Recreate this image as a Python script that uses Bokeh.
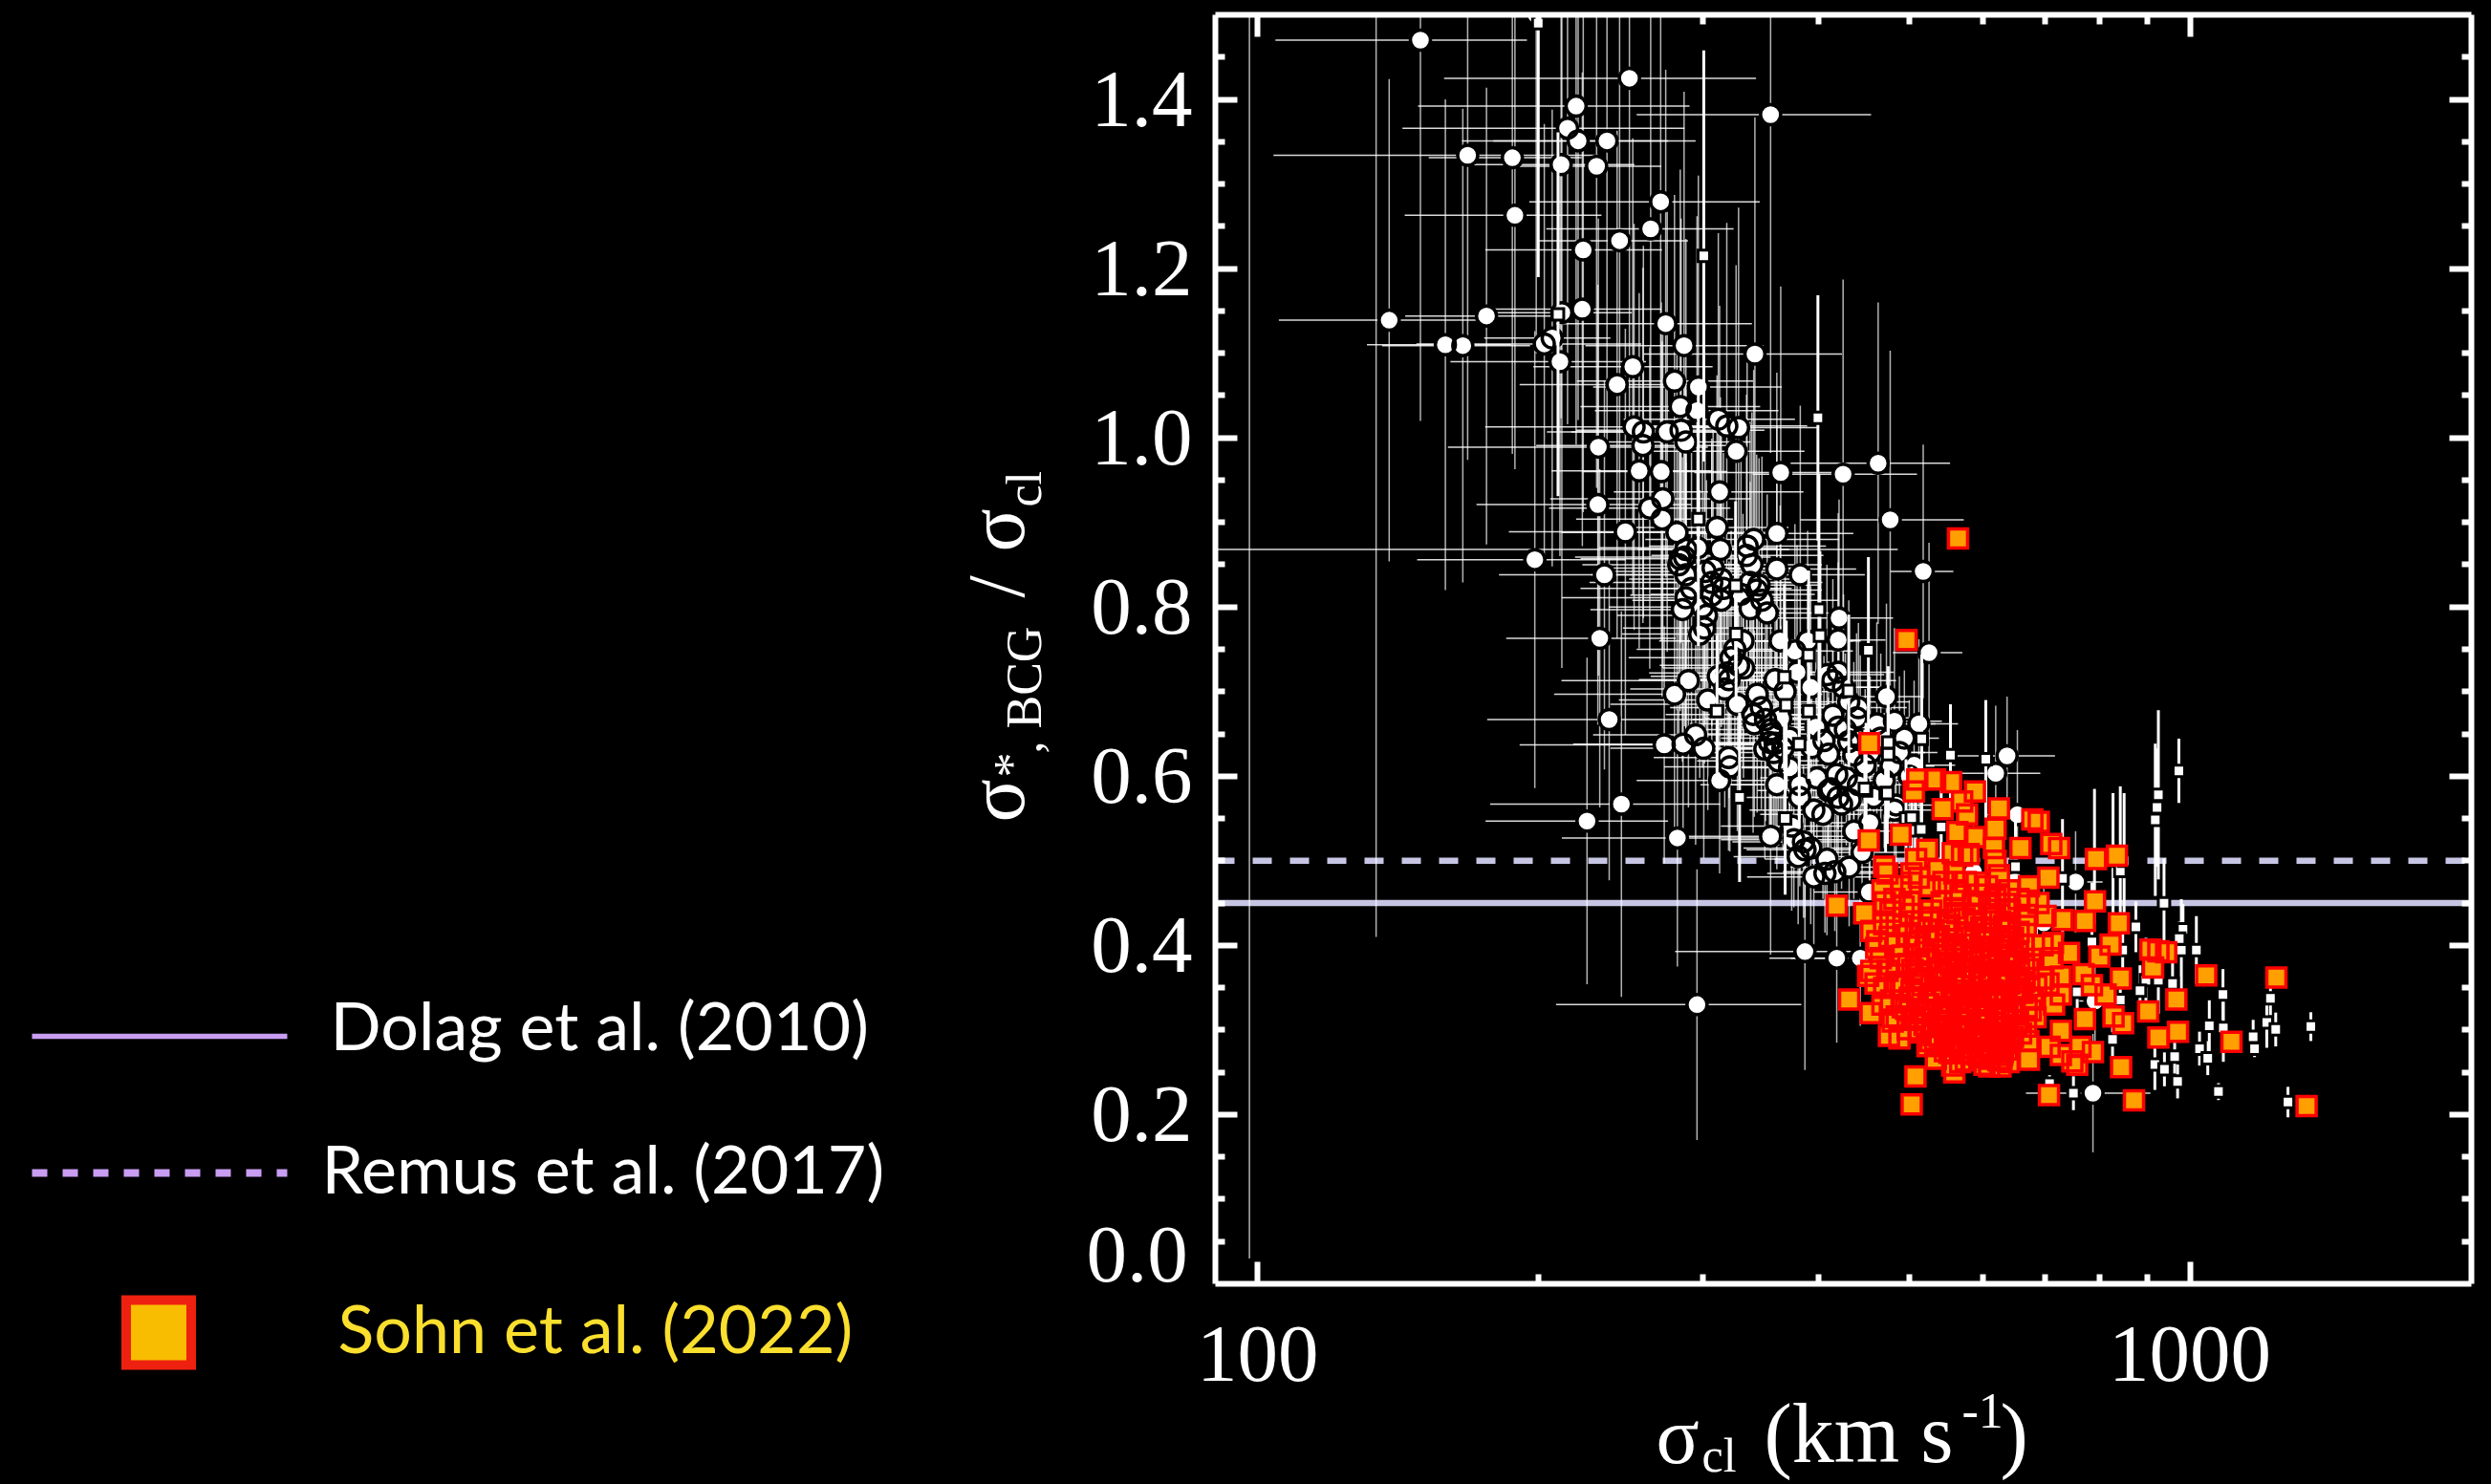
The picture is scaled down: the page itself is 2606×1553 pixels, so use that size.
from bokeh.plotting import figure
from bokeh.models import (FixedTicker, Range1d, LogAxis, LinearAxis, BasicTickFormatter)
from bokeh.core.properties import value
from bokeh.embed import file_html
from bokeh.resources import INLINE

# ---- data ----
circ_sigma = [149.5,250.5,219.6,355,215,220.7,237,168,187.6,211.6,
 231,270.6,188.8,264,244.5,223.5,223,212,176,138.4,
 274,207,159,166,203,286.7,341.5,211,252.6,243,
 280,297,284,296,312,318.6,328,253.4,259.3,259,
 232,275,284.6,288,326,199,288,
 256.6,271,364,424.6,463,313,272,231.7,263.4,271.6,
 477,311,248,281.7,360.5,340.5,296.5,313.6,335,287,
 284,198.3,334.5,288,235.5,360.5,382,517.5,302,314.3,
 307,337.5,343,307,314.3,288,285.5,347.5,337.5,303,
 301.5,420.4,232.8,331.6,325,363.5,419.5,377,389,525,
 328,319,320.4,379,419.5,414,359,289.8,280,343.4,
 304,327,472.6,430.6,441,340,350.6,341,238.3,295,
 286,273,301,356,359,357.6,419.5,439,461.5,482,
 512,409.6,393,430.6,320,321,448.4,506,372,418,
 313,360.5,381.5,381.5,409.6,419.5,423,484,245.6,404,
 453.6,374,225.6,282,355,385,386.5,408,386.4,296,
 418,443,453,619,636.6,653,754,787,567,586,
 563,697,791,607,649,
 308,316,330,345,300,292,283,339,352,298,
 322,332,317,368,392,408,425,312,347,355,
 364,372,362,350,354,366,397,405,414,427,
 436,443,454,466,478,488,494,500,398,412,
 428,432,441,458,470,482,395,376,380,392,
 395,406,416,431,436,445]
circ_ratio = [1.47,1.425,1.392,1.382,1.366,1.351,1.351,1.334,1.331,1.323,
 1.321,1.279,1.263,1.247,1.233,1.222,1.152,1.148,1.144,1.139,
 1.135,1.118,1.110,1.109,1.111,1.109,1.099,1.09,1.084,1.063,
 1.067,1.060,1.037,1.032,1.022,1.014,1.012,1.013,1.007,.991,
 .989,1.007,1.009,.995,.984,1.50,.868,
 .961,.96,.959,.957,.970,.936,.928,.921,.917,.904,
 .903,.894,.889,.888,.887,.880,.870,.868,.872,.859,
 .857,.856,.861,.838,.838,.845,.838,.842,.842,.833,
 .829,.829,.82,.814,.808,.811,.797,.808,.798,.790,
 .775,.787,.763,.760,.750,.760,.761,.748,.760,.746,
 .731,.722,.714,.723,.723,.713,.714,.713,.697,.697,
 .690,.685,.694,.688,.681,.673,.667,.662,.667,.649,
 .638,.637,.633,.650,.639,.628,.658,.669,.662,.665,
 .662,.626,.634,.641,.622,.611,.613,.613,.610,.602,
 .595,.590,.590,.575,.583,.575,.567,.566,.567,.555,
 .545,.541,.547,.527,.529,.5225,.513,.502,.3927,.33,
 .385,.385,.463,.6034,.624,.5545,.475,.2254,.4304,.487,
 .408,.4266,.3344,.361,.4755,
 .846,.822,.815,.826,.80,.822,.85,.85,.793,.768,
 .74,.728,.703,.70,.705,.72,.705,.718,.681,.655,
 .668,.645,.618,.632,.64,.633,.658,.642,.672,.655,
 .625,.643,.628,.645,.612,.628,.645,.60,.598,.585,
 .598,.572,.59,.575,.595,.56,.56,.525,.505,.515,
 .481,.485,.487,.4926,.535,.51]
circ_dsigma = [45,92,71,100,72,55,58,64,35,42,
 40,75,45,60,45,48,48,40,32,33,
 65,32,28,30,55,62,82,50,55,52,
 60,68,62,66,65,70,72,78,55,60,
 72,58,65,50,60,20,198,
 50,48,70,85,90,72,66,60,58,52,
 95,60,62,70,75,80,64,58,72,68,
 62,50,70,60,54,78,66,40,70,64,
 80,66,60,56,62,76,58,72,54,60,
 55,60,48,62,70,80,52,58,46,45,
 58,56,64,50,62,70,64,78,72,60,
 60,88,44,70,56,66,58,50,62,66,
 68,82,62,72,60,54,58,66,72,60,
 52,64,70,60,54,48,70,54,62,58,
 58,62,70,54,66,60,52,50,68,58,
 56,60,50,70,80,62,52,58,106,87,
 64,70,58,72,80,48,52,120,40,44,
 40,36,30,34,42,
 70,58,66,54,62,70,60,64,58,52,
 72,60,66,58,74,62,54,48,70,56,
 62,58,66,60,52,48,70,58,64,56,
 60,50,66,58,54,48,44,60,52,60,
 66,54,58,50,64,46,58,62,56,60,
 60,54,50,58,52,60]
circ_dratio = [.45,.42,.40,.40,.35,.33,.36,.36,.35,.30,
 .38,.38,.30,.33,.35,.31,.28,.42,.27,.285,
 .30,.27,.29,.28,.26,.30,.28,.23,.27,.30,
 .22,.25,.28,.23,.22,.24,.26,.24,.22,.21,
 .27,.26,.25,.24,.22,.40,.20,
 .21,.20,.22,.23,.19,.22,.20,.26,.19,.21,
 .20,.18,.24,.21,.19,.20,.19,.18,.22,.20,
 .18,.27,.19,.19,.23,.17,.20,.15,.18,.17,
 .17,.19,.16,.18,.15,.16,.18,.17,.15,.16,
 .16,.14,.20,.15,.14,.16,.15,.15,.13,.13,
 .13,.12,.14,.15,.13,.12,.14,.15,.16,.14,
 .13,.15,.11,.12,.10,.14,.12,.11,.19,.13,
 .12,.14,.13,.12,.11,.10,.12,.10,.12,.11,
 .10,.11,.12,.10,.11,.10,.09,.10,.11,.10,
 .11,.10,.12,.09,.11,.09,.10,.09,.228,.10,
 .09,.10,.193,.152,.14,.09,.08,.09,.14,.16,
 .10,.08,.07,.08,.07,.10,.06,.07,.06,.07,
 .06,.06,.05,.05,.07,
 .18,.16,.17,.15,.19,.16,.20,.18,.14,.17,
 .15,.13,.14,.15,.12,.13,.11,.12,.12,.13,
 .11,.12,.10,.13,.11,.12,.11,.10,.12,.09,
 .11,.10,.09,.10,.08,.09,.08,.09,.10,.09,
 .08,.09,.08,.09,.08,.07,.09,.08,.08,.09,
 .08,.07,.07,.07,.08,.07]

sq_sigma = [200,210,301,399,297,325.6,400,326,401,452,
 390,367.3,430.6,311,369,390,381,474.6,474.6,515.6,
 449.4,471.6,328.8,368,496,508,448,473.6,503,515,
 541,553.5,604,650,973,925,922,918,938,875,
 983,1016,979,847,974,897,925,958,884,1085,
 842,1220,1049,1086,1169,1209,1236,1348,1173,1024,
 963,1045,917,939,970,1073,1274,750,707,826,
 785,684,684,757,704,730,790,827,842,850]
sq_ratio = [1.49,1.146,1.215,1.0235,.904,.825,.797,.768,.766,.749,
 .743,.717,.701,.677,.684,.677,.638,.640,.626,.644,
 .583,.580,.575,.550,.550,.536,.585,.580,.551,.537,
 .54,.625,.62,.493,.6064,.578,.563,.5485,.4499,.422,
 .419,.3946,.3946,.3946,.408,.359,.359,.355,.3465,.342,
 .3355,.3374,.3051,.3024,.292,.309,.3006,.304,.278,.278,
 .2686,.2667,.2592,.2535,.2392,.2272,.2148,.2253,.2366,.289,
 .404,.403,.3878,.345,.3382,.4793,.505,.50,.488,.50]
sq_dratio = [.30,.215,.243,.145,.15,.10,.16,.09,.10,.11,
 .10,.11,.09,.09,.10,.08,.10,.09,.07,.10,
 .08,.07,.10,.09,.07,.06,.07,.06,.06,.06,
 .06,.06,.07,.06,.038,.10,.07,.09,.053,.03,
 .03,.04,.06,.04,.02,.05,.04,.03,.03,.03,
 .03,.02,.03,.04,.02,.03,.02,.017,.01,.02,
 .02,.02,.03,.02,.02,.01,.018,.02,.01,.02,
 .07,.06,.05,.03,.02,.07,.08,.08,.10,.08]

stray_sigma = [98, 134]
stray_low = [0.03, 0.41]
stray_high = [1.5, 1.5]

sohn_sigma = [564,496.6,453,510,533,554.5,588,505.7,569.7,624,543,576.7,677.6,688.5,563,489.5,452.4,588,618.8,658,
 710,724,793,835,522.7,508.5,556.7,569.7,579,616.3,618.8,624,470,473.7,705,537.3,502.6,502.6,558.8,590.6,
 624,669.5,791,418,447.3,470.7,477.4,500.6,541.6,567.4,609,634,588,669.5,666.7,636.6,730,771.5,839,455.3,
 484.7,524.4,552.4,588,713,742,822,799.6,460.8,484.7,524.4,563,604,654,455.3,451.7,484.7,470,512.5,550,
 586,624,664,696.7,727,769,785,843,812,727,431,454.6,484.7,508.5,537.3,567.4,595,634,664,500.6,
 533,567.4,604,649,484.7,512.5,541.6,572,604,644,675,771.5,828,848,475.5,512.5,541.6,572,604,634,
 667,727,533,556.7,586,634,707,727,763,787,748,586,672,629,626.4,757,843.7,507.7,558.8,706,
 503,871,907,943,925,913,1041,1238,967,902,971,925,1108,1334,
 493,516,528,547,559,573,585,597,612,626,641,655,
 497,511,531,543,556,571,583,596,609,622,637,649,663,675,
 492,504,521,536,548,561,574,588,601,615,629,642,656,671,684,
 489,503,517,529,545,558,572,584,593,608,621,636,648,661,678,
 492,507,524,537,551,564,579,592,606,619,631,654,668,683,
 498,519,531,546,561,576,589,601,616,627,646,659,671,
 546,568,597,612,623,602,639,
 501,513,525,538,550,563,577,590,604,618,632,646,
 506,520,534,547,560,574,587,600,613,628,641,653,
 499,512,526,541,554,569,582,595,610,624,638,651,
 503,515,530,544,557,570,586,599,614,626,640,657,
 496,510,522,535,549,562,578,591,605,617,633,648,
 505,518,532,548,565,581,594,607,620,635,652,
 513,527,542,555,571,585,598,611,625,643,
 523,539,552,566,580,593,608,622,636,
 534,551,567,583,596,610,630,
 556,575,592,609,628,
 512,526,544,560,575,592,606,618,640,655,672,
 490,482,468,688,700,695,712,705,715,
 470,462,476,466,474,460,478,468,480,488]
sohn_ratio = [.881,.761,.639,.596,.596,.593,.582,.582,.570,.562,.561,.555,.549,.546,.534,.531,.524,.528,.538,.515,
 .520,.515,.502,.506,.513,.502,.509,.506,.508,.515,.500,.483,.493,.485,.480,.489,.485,.474,.485,.474,
 .459,.453,.452,.447,.438,.451,.440,.451,.451,.459,.451,.449,.436,.436,.423,.421,.430,.429,.426,.417,
 .425,.432,.430,.410,.403,.391,.401,.387,.397,.400,.406,.395,.391,.391,.370,.364,.376,.350,.380,.380,
 .387,.380,.376,.361,.363,.366,.353,.361,.342,.342,.336,.320,.357,.361,.361,.365,.357,.357,.357,.338,
 .342,.342,.342,.342,.316,.323,.323,.323,.323,.323,.323,.313,.316,.308,.293,.297,.304,.304,.308,.304,
 .304,.299,.284,.286,.278,.288,.280,.2705,.280,.274,.263,.272,.265,.2705,.257,.259,.256,.245,.250,.223,
 .212,.217,.395,.392,.393,.374,.3645,.362,.336,.322,.298,.291,.286,.210,
 .446,.428,.441,.417,.444,.432,.448,.421,.437,.428,.441,.416,
 .412,.399,.418,.394,.407,.401,.386,.398,.409,.394,.404,.382,.401,.384,
 .388,.371,.384,.373,.366,.389,.369,.374,.362,.377,.366,.378,.368,.372,.352,
 .352,.347,.353,.336,.349,.356,.332,.351,.329,.354,.338,.346,.334,.344,.336,
 .327,.315,.331,.309,.316,.327,.312,.318,.334,.309,.314,.311,.327,.315,
 .301,.306,.294,.289,.298,.296,.287,.293,.297,.283,.292,.296,.287,
 .275,.279,.268,.276,.264,.259,.262,
 .437,.421,.433,.411,.424,.438,.415,.429,.419,.442,.423,.409,
 .403,.392,.411,.388,.399,.414,.393,.405,.386,.399,.411,.392,
 .378,.366,.382,.369,.377,.362,.381,.367,.383,.365,.376,.361,
 .345,.358,.343,.361,.339,.352,.344,.359,.347,.341,.355,.349,
 .325,.338,.321,.342,.327,.336,.323,.339,.319,.331,.343,.322,
 .312,.324,.305,.319,.311,.326,.307,.321,.303,.316,.306,
 .299,.287,.311,.295,.303,.284,.308,.291,.302,.288,
 .281,.292,.273,.285,.278,.299,.274,.282,.277,
 .266,.283,.262,.273,.279,.266,.274,
 .258,.264,.271,.257,.266,
 .48,.47,.475,.465,.475,.46,.47,.455,.465,.455,.47,
 .47,.455,.465,.45,.435,.40,.385,.355,.33,
 .425,.405,.41,.385,.37,.355,.335,.33,.31,.29]

levels = [0.45, 0.50]
x_tick_values = [100, 1000]
x_tick_labels = ["100", "1000"]
x_minor_values = [200,300,400,500,600,700,800,900]
y_tick_values = [0.2,0.4,0.6,0.8,1.0,1.2,1.4]
y_tick_labels = ["0.2","0.4","0.6","0.8","1.0","1.2","1.4"]
y_minor_values = [0.05,0.1,0.15,0.25,0.3,0.35,0.45,0.5,0.55,0.65,0.7,0.75,0.85,0.9,0.95,1.05,1.1,1.15,1.25,1.3,1.35,1.45]
legend_labels = ["Dolag et al. (2010)", "Remus et al. (2017)", "Sohn et al. (2022)"]

# ---- styles / layout ----
SERIF = "Liberation Serif"
LAV = "#c6c6e4"

# ---- page-wide panel under the plot: its ranges equal page pixels ----
lg = figure(width=2590, height=1545, x_range=Range1d(8,2598), y_range=Range1d(1553,8),
            output_backend="svg", toolbar_location=None, background_fill_color="black",
            border_fill_color="black", min_border=0, outline_line_color=None,
            x_axis_location=None, y_axis_location=None)
lg.grid.visible = False
lg.line([33,300],[1084,1084], line_color="#c89df2", line_width=5.5)
lg.line([33,300],[1227,1227], line_color="#c89df2", line_width=8, line_dash="16 16")
lg.scatter([165.5],[1394], marker="square", size=68, fill_color="#f8bc00",
           line_color="#ee2010", line_width=10, line_join="miter")
lg.text([345,336,353],[1071,1221,1388], text=legend_labels, text_font=value("Lato"),
        text_font_size="70px", text_color=["white","white","#fadf2e"],
        text_baseline="alphabetic", text_align="left")

def lab(text, px, py, size, angle=0):
    # text is drawn .37 em past the requested baseline
    shift = 0.37 * size
    xx, yy = (px - shift, py) if angle else (px, py - shift)
    lg.text([xx], [yy], text=[text], text_font=value(SERIF), text_font_size=f"{size}px",
            text_color="white", text_baseline="alphabetic", text_align="left",
            angle=angle, angle_units="deg")

lab("0.0", 1136, 1344, 85)
lab("σ", 1732, 1533, 84); lab("cl", 1780, 1541, 50); lab("(km s", 1845, 1533, 88)
lab("-1", 2052, 1495, 52); lab(")", 2092, 1533, 88)
lab("σ", 1073, 860, 84, 90); lab("*", 1077, 813, 52, 90); lab(", BCG", 1090, 788, 52, 90)
lab("/", 1073, 625, 84, 90); lab("σ", 1073, 577, 84, 90); lab("cl", 1090, 530, 52, 90)

# ---- main panel ----
p = figure(width=1590, height=1537, x_axis_type="log", x_range=Range1d(90.1,2004), y_range=Range1d(0,1.5),
           output_backend="svg", toolbar_location=None, background_fill_color="black",
           border_fill_color=None, min_border_left=263, min_border_right=13,
           min_border_top=7, min_border_bottom=194, outline_line_color=None,
           frame_width=1314, frame_height=1328, margin=(0,0,0,-1590))
p.grid.visible = False

for lev, dash in zip(levels, ["solid", "20 19"]):
    p.line([90.1,2004],[lev,lev], line_color=LAV, line_width=6.5, line_dash=dash)

WH = "white"
p.segment(stray_sigma, stray_low, stray_sigma, stray_high, line_color=WH, line_alpha=0.7, line_width=1.5)
p.segment([s-d for s,d in zip(circ_sigma,circ_dsigma)], circ_ratio,
          [s+d for s,d in zip(circ_sigma,circ_dsigma)], circ_ratio,
          line_color=WH, line_alpha=0.85, line_width=1.5)
p.segment(circ_sigma, [r-d for r,d in zip(circ_ratio,circ_dratio)],
          circ_sigma, [r+d for r,d in zip(circ_ratio,circ_dratio)],
          line_color=WH, line_alpha=0.7, line_width=1.5)
# fills first, outlines over all of them
p.scatter(circ_sigma, circ_ratio, marker="circle", size=21, fill_color=WH, line_color=None)
p.scatter(circ_sigma, circ_ratio, marker="circle", size=21, fill_color=None, line_color="black", line_width=3.5)
p.segment(sq_sigma, [r-d for r,d in zip(sq_ratio,sq_dratio)],
          sq_sigma, [r+d for r,d in zip(sq_ratio,sq_dratio)],
          line_color=WH, line_width=3)
p.scatter(sq_sigma, sq_ratio, marker="square", size=12, fill_color=WH, line_color="black", line_width=3, line_join="miter")
p.scatter(sohn_sigma, sohn_ratio, marker="square", size=20, fill_color="#ffa000", line_color=None)
p.scatter(sohn_sigma, sohn_ratio, marker="square", size=20, fill_color=None, line_color="#ff0000", line_width=3.5, line_join="miter")

def style(ax, labels):
    ax.axis_line_color = "white"; ax.axis_line_width = 6
    ax.major_tick_line_color = "white"; ax.major_tick_line_width = 6
    ax.minor_tick_line_color = "white"; ax.minor_tick_line_width = 6
    ax.major_tick_in = 23; ax.major_tick_out = 0
    ax.minor_tick_in = 10; ax.minor_tick_out = 0
    if labels:
        ax.major_label_text_font = SERIF
        ax.major_label_text_font_size = "85px"
        ax.major_label_text_color = "white"
    else:
        ax.major_label_text_font_size = "1px"
        ax.major_label_text_color = None
        ax.major_label_standoff = 0

xt = FixedTicker(ticks=x_tick_values, minor_ticks=x_minor_values)
yt = FixedTicker(ticks=y_tick_values, minor_ticks=y_minor_values)

xa = p.xaxis[0]; xa.ticker = xt
xa.formatter = BasicTickFormatter(use_scientific=False)
xa.major_label_overrides = dict(zip(x_tick_values, x_tick_labels))
style(xa, True); xa.major_label_standoff = 45
ya = p.yaxis[0]; ya.ticker = yt
ya.major_label_overrides = dict(zip(y_tick_values, y_tick_labels))
style(ya, True); ya.major_label_standoff = 24

top = LogAxis(ticker=xt, major_label_overrides={v: "" for v in x_tick_values}); style(top, False); p.add_layout(top, "above")
right = LinearAxis(ticker=yt, major_label_overrides={v: "" for v in y_tick_values}); style(right, False); p.add_layout(right, "right")

html = file_html([lg, p], INLINE).replace("</head>", "<style>html,body{background:#000}body{margin:8px 8px 0 8px;display:flex;align-items:flex-start}</style></head>")
open("out.html", "w").write(html)
